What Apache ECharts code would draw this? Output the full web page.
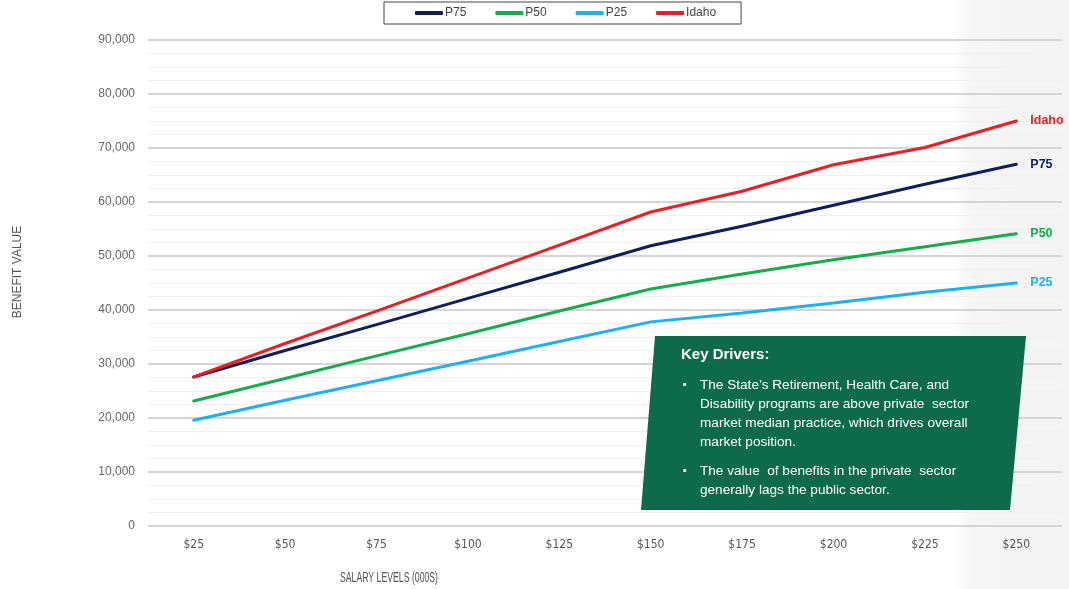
<!DOCTYPE html>
<html><head><meta charset="utf-8">
<script src="https://cdn.jsdelivr.net/npm/echarts@6/dist/echarts.min.js"></script>
<style>html,body{margin:0;padding:0;background:#fff}#c{width:1069px;height:589px}</style>
</head><body><div id="c"></div>
<script>
const categories = ['$25','$50','$75','$100','$125','$150','$175','$200','$225','$250'];
const p75   = [27600, 32500, 37300, 42150, 47000, 51900, 55500, 59400, 63300, 67000];
const p50   = [23150, 27300, 31500, 35600, 39800, 43900, 46650, 49300, 51700, 54100];
const p25   = [19600, 23300, 26900, 30500, 34150, 37800, 39450, 41300, 43300, 45000];
const idaho = [27600, 33800, 39800, 45900, 52000, 58150, 62000, 66900, 70100, 75000];
const seriesNames = ['P75','P50','P25','Idaho'];
const seriesColors = ['#0f1f5c','#13ad4b','#1eb1ef','#ee1d23'];
const yTicks = {min: 0, max: 90000, interval: 10000};
const notes = {
  title: 'Key Drivers:',
  bullets: [
    ['The State\u2019s Retirement, Health Care, and','Disability programs are above private  sector','market median practice, which drives overall','market position.'],
    ['The value  of benefits in the private  sector','generally lags the public sector.']
  ]
};
const chart = echarts.init(document.getElementById('c'));
const values = [p75, p50, p25, idaho];
const series = seriesNames.map((n,i)=>({
  name: n, type: 'line', data: values[i], symbol: 'none', smooth: false,
  lineStyle: {width: 3, color: seriesColors[i], cap: 'round'},
  itemStyle: {color: seriesColors[i]},
  z: 3 + (i===3?1:0),
  endLabel: {show: true, formatter: n, color: seriesColors[i], fontWeight: 'bold',
    fontSize: 12.5, fontFamily: 'Liberation Sans, Arial, sans-serif', distance: 14}
}));
const txt = [];
let y = 386;
notes.bullets.forEach((b, bi)=>{
  txt.push({type:'text', left: 683, top: y-7, z: 20, style:{text:'\u25AA', fill:'#fff', font:'11px Liberation Sans'}});
  b.forEach(line=>{
    txt.push({type:'text', left: 700, top: y-8, z: 20, style:{text: line, fill:'#fff', font:'13.6px "Liberation Sans", Arial, sans-serif'}});
    y += 19;
  });
  y += 10;
});
chart.setOption({
  backgroundColor: '#ffffff',
  animation: false,
  grid: {left: 148, right: 7, top: 40, bottom: 63, containLabel: false},
  legend: {
    data: seriesNames, left: 384, top: 2, width: 400,
    padding: [5, 25, 5, 31], itemGap: 29, itemWidth: 28, itemHeight: 4,
    icon: 'roundRect', borderColor: '#444', borderWidth: 1, backgroundColor: '#fff',
    textStyle: {color: '#444', fontSize: 12, fontFamily: 'Liberation Sans, Arial, sans-serif', padding: [0,0,0,-3]}
  },
  xAxis: {
    type: 'category', data: categories, boundaryGap: true,
    axisLine: {show: false}, axisTick: {show: false},
    axisLabel: {color: '#555', fontSize: 12, margin: 13,
      fontFamily: '"DejaVu Sans Condensed", "Liberation Sans Narrow", sans-serif'}
  },
  yAxis: {
    type: 'value', min: yTicks.min, max: yTicks.max, interval: yTicks.interval,
    axisLine: {show: false}, axisTick: {show: false},
    axisLabel: {color: '#666', fontSize: 12, margin: 13, fontFamily: 'Liberation Sans, Arial, sans-serif',
      formatter: v => v.toLocaleString('en-US')},
    splitLine: {show: true, lineStyle: {color: '#d5d5d5', width: 2}},
    minorTick: {show: false, splitNumber: 4},
    minorSplitLine: {show: true, lineStyle: {color: '#f0f0f0', width: 1}}
  },
  series: series,
  graphic: [
    {type:'rect', left: 955, top: 0, z: -10, shape:{width: 114, height: 589}, silent: true,
      style:{fill: new echarts.graphic.LinearGradient(0,0,1,0,[{offset:0,color:'rgba(240,240,240,0)'},{offset:0.15,color:'#f5f5f5'},{offset:1,color:'#f3f3f3'}])}},
    {type:'text', x: 18, y: 272, rotation: Math.PI/2, z: 10,
      style:{text:'BENEFIT VALUE', fill:'#555', font:'12px "Liberation Sans", Arial, sans-serif', align:'center', verticalAlign:'middle'}},
    {type:'text', x: 389, y: 578, z: 10, scaleX: 0.6,
      style:{text:'SALARY LEVELS (000S)', fill:'#555', font:'14.5px "Liberation Sans", Arial, sans-serif', align:'center', verticalAlign:'middle'}},
    {type:'polygon', z: 15, shape:{points:[[655,336],[1026,336],[1010,510],[641,510]]}, style:{fill:'#0d6a4b'}},
    {type:'text', left: 681, top: 347, z: 20, style:{text: notes.title, fill:'#fff', font:'bold 15px "Liberation Sans", Arial, sans-serif'}}
  ].concat(txt)
});
</script></body></html>
